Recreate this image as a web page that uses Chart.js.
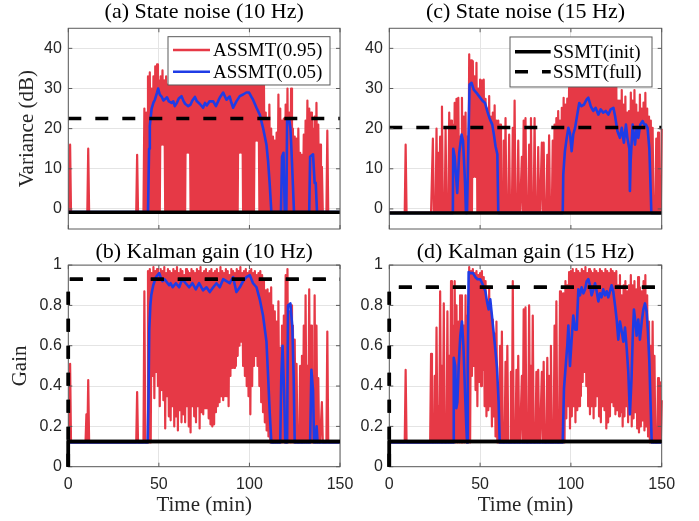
<!DOCTYPE html>
<html>
<head>
<meta charset="utf-8">
<script src="https://cdn.jsdelivr.net/npm/chart.js@4.4.1/dist/chart.umd.min.js"></script>
<style>
html,body{margin:0;padding:0;background:#fff;width:699px;height:521px;overflow:hidden;position:relative}
canvas{position:absolute}
</style>
</head>
<body>
<canvas id="pa" width="365" height="250" style="left:0;top:0"></canvas>
<canvas id="pc" width="349" height="250" style="left:350px;top:0"></canvas>
<canvas id="pb" width="365" height="281" style="left:0;top:240px"></canvas>
<canvas id="pd" width="349" height="281" style="left:350px;top:240px"></canvas>
<script>
// ---------- axis ticks ----------
const xTicks = [0, 50, 100, 150];
const yTicksNoise = [0, 10, 20, 30, 40];
const yTicksGain = [0, 0.2, 0.4, 0.6, 0.8, 1];

// ---------- SSMT reference levels (panels a, b, c, d) ----------
const ssmtInitLevel = [-0.8, 0.125, -1.0, 0.125];
const ssmtFullLevel = [22.5, 0.93, 20.3, 0.89];

// ---------- ASSMT(0.95): per-minute upper / lower values (t = 0..150) ----------
const redHiA = [
-0.8,16,-0.8,-0.8,-0.8,-0.8,-0.8,-0.8,-0.8,-0.8,
-0.8,15,-0.8,-0.8,-0.8,-0.8,-0.8,-0.8,-0.8,-0.8,
-0.8,-0.8,-0.8,-0.8,-0.8,-0.8,-0.8,-0.8,-0.8,-0.8,
-0.8,-0.8,-0.8,-0.8,-0.8,-0.8,-0.8,-0.8,13.5,-0.8,
-0.8,-0.8,25,24,33,34,30,33,35.5,36,
32,33,34.5,32,33,31,33,32,34,33,
32,34,33,32,33,34,32,33,34,33,
32,33,34,33,32,33,34,32,33,34,
33,32,34,33,32,33,34,33,32,33,
34,33,32,33,34,32,33,34,33,32,
33,34,32,33,31,33,32,31,32,24,
22,26,20,18,17,19,28.5,25,22,22.5,
26,30,24,30,20,18,17.5,20,14,13.5,
18.5,22,27,25,24,20,23,26.4,21,16,
10.5,-0.8,-0.8,19.5,-0.8,-0.8,-0.8,-0.8,-0.8,-0.8,-0.8];
const redLoA = [
-0.8,-0.8,-0.8,-0.8,-0.8,-0.8,-0.8,-0.8,-0.8,-0.8,
-0.8,-0.8,-0.8,-0.8,-0.8,-0.8,-0.8,-0.8,-0.8,-0.8,
-0.8,-0.8,-0.8,-0.8,-0.8,-0.8,-0.8,-0.8,-0.8,-0.8,
-0.8,-0.8,-0.8,-0.8,-0.8,-0.8,-0.8,-0.8,-0.8,-0.8,
-0.8,-0.8,-0.8,-0.8,-0.8,-0.8,-0.8,-0.8,-0.8,-0.8,
-0.8,16,16,-0.8,-0.8,-0.8,-0.8,-0.8,-0.8,-0.8,
-0.8,-0.8,-0.8,-0.8,-0.8,14,14,-0.8,-0.8,-0.8,
-0.8,-0.8,-0.8,-0.8,-0.8,-0.8,-0.8,-0.8,-0.8,-0.8,
-0.8,-0.8,-0.8,-0.8,-0.8,-0.8,-0.8,-0.8,-0.8,-0.8,
-0.8,-0.8,-0.8,-0.8,14,14,-0.8,-0.8,-0.8,-0.8,
-0.8,-0.8,-0.8,17,17,-0.8,-0.8,-0.8,-0.8,-0.8,
-0.8,-0.8,-0.8,-0.8,-0.8,-0.8,-0.8,-0.8,-0.8,-0.8,
-0.8,-0.8,-0.8,-0.8,-0.8,-0.8,-0.8,-0.8,-0.8,-0.8,
-0.8,-0.8,-0.8,-0.8,-0.8,-0.8,-0.8,-0.8,-0.8,-0.8,
-0.8,-0.8,-0.8,-0.8,-0.8,-0.8,-0.8,-0.8,-0.8,-0.8,-0.8];

const redHiC = [
-1,-1,-1,-1,-1,-1,-1,-1,-1,16,
-1,-1,-1,-1,-1,-1,-1,-1,-1,-1,
-1,-1,-1,-1,17.5,-1,20,14,18,25.5,
-1,20,-1,24,22,21,26.4,27.4,27.7,18,
27.7,23,24,18,38.5,37,36.8,33,36.4,30,
32.2,32,32.2,27.4,25,28.1,23,24,25.8,22,
22,21,-1,17,22.6,-1,18.5,-1,20.2,27,
-1,17,-1,13,22,22.6,-1,16,22.6,-1,
22.6,-1,15.4,-1,16.5,16.5,-1,13.5,18.3,-1,
17,21,22.6,24.4,22,25.2,27.7,26,27.5,30.2,
33,34,32,35,33,34,32,33,35,34,
33,32,34,33,35,33,32,34,33,32,
34,33,32,33,34,31,27,27,29.6,26,
28,24,24.4,29,27,29.6,26,24,28.5,25,
26.5,28.9,25,23,22,20.2,-1,17.5,19,-1,20];
const redLoC = [
-1,-1,-1,-1,-1,-1,-1,-1,-1,-1,
-1,-1,-1,-1,-1,-1,-1,-1,-1,-1,
-1,-1,-1,-1,-1,-1,-1,-1,-1,-1,
-1,-1,-1,-1,-1,-1,-1,-1,-1,-1,
-1,-1,-1,-1,-1,-1,8,8,-1,-1,
-1,-1,-1,-1,-1,-1,-1,-1,-1,-1,
-1,-1,-1,-1,-1,-1,-1,-1,-1,-1,
-1,-1,-1,-1,-1,-1,-1,-1,-1,-1,
-1,-1,-1,-1,-1,-1,-1,-1,-1,-1,
-1,-1,-1,-1,-1,-1,-1,-1,-1,-1,
-1,-1,-1,-1,-1,-1,-1,-1,-1,-1,
-1,-1,-1,-1,-1,-1,-1,-1,-1,-1,
-1,-1,-1,-1,-1,-1,-1,-1,-1,-1,
-1,-1,-1,-1,-1,-1,-1,-1,-1,-1,
-1,-1,-1,-1,-1,-1,-1,-1,-1,-1,-1];

const redHiB = [
0.12,0.51,0.12,0.12,0.12,0.12,0.12,0.12,0.12,0.12,
0.26,0.43,0.12,0.12,0.12,0.12,0.12,0.12,0.12,0.12,
0.12,0.12,0.12,0.12,0.12,0.12,0.12,0.12,0.12,0.12,
0.12,0.12,0.12,0.12,0.12,0.12,0.12,0.12,0.37,0.12,
0.12,0.12,0.87,0.12,0.97,0.98,0.96,0.99,0.97,0.98,
0.96,0.98,0.97,0.99,0.96,0.98,0.97,0.96,0.98,0.97,
0.99,0.96,0.98,0.97,0.95,0.98,0.97,0.96,0.98,0.97,
0.96,0.98,0.97,0.99,0.96,0.97,0.98,0.96,0.97,0.98,
0.96,0.97,0.98,0.96,0.99,0.97,0.96,0.98,0.97,0.95,
0.98,0.97,0.96,0.98,0.97,0.99,0.96,0.97,0.98,0.96,
0.97,0.98,0.96,0.97,0.95,0.96,0.97,0.95,0.93,0.875,
0.88,0.86,0.89,0.8,0.77,0.72,0.82,0.59,0.7,0.75,
0.95,0.98,0.77,0.8,0.7,0.63,0.51,0.12,0.5,0.55,
0.7,0.85,0.5,0.88,0.7,0.12,0.85,0.7,0.44,0.12,
0.32,0.12,0.12,0.67,0.12,0.12,0.12,0.12,0.12,0.12,0.12];
const redLoB = [
0.12,0.12,0.12,0.12,0.12,0.12,0.12,0.12,0.12,0.12,
0.12,0.12,0.12,0.12,0.12,0.12,0.12,0.12,0.12,0.12,
0.12,0.12,0.12,0.12,0.12,0.12,0.12,0.12,0.12,0.12,
0.12,0.12,0.12,0.12,0.12,0.12,0.12,0.12,0.12,0.12,
0.12,0.12,0.12,0.12,0.12,0.12,0.45,0.34,0.47,0.4,
0.3,0.38,0.33,0.19,0.35,0.25,0.23,0.3,0.2,0.25,
0.18,0.28,0.22,0.26,0.22,0.3,0.2,0.17,0.3,0.25,
0.22,0.3,0.19,0.27,0.26,0.29,0.29,0.24,0.21,0.2,
0.21,0.27,0.3,0.32,0.35,0.33,0.35,0.35,0.3,0.45,
0.49,0.49,0.5,0.55,0.6,0.62,0.5,0.45,0.4,0.35,
0.26,0.4,0.5,0.55,0.5,0.4,0.32,0.27,0.22,0.18,
0.15,0.12,0.12,0.12,0.12,0.12,0.12,0.12,0.12,0.12,
0.12,0.12,0.12,0.12,0.12,0.12,0.12,0.12,0.12,0.12,
0.12,0.12,0.12,0.12,0.12,0.12,0.12,0.12,0.12,0.12,
0.12,0.12,0.12,0.12,0.12,0.12,0.12,0.12,0.12,0.12,0.12];

const redHiD = [
0.12,0.12,0.12,0.12,0.12,0.12,0.12,0.12,0.12,0.48,
0.12,0.12,0.12,0.12,0.12,0.12,0.12,0.12,0.12,0.12,
0.12,0.12,0.12,0.56,0.12,0.45,0.69,0.3,0.87,0.5,
0.81,0.12,0.77,0.55,0.92,0.7,0.92,0.8,0.72,0.85,
0.85,0.7,0.85,0.75,0.99,0.97,0.98,0.96,0.97,0.95,
0.96,0.97,0.94,0.92,0.81,0.88,0.77,0.73,0.66,0.72,
0.12,0.6,0.67,0.12,0.52,0.6,0.12,0.47,0.92,0.12,
0.48,0.55,0.12,0.45,0.78,0.79,0.12,0.8,0.5,0.75,
0.12,0.47,0.48,0.12,0.47,0.52,0.12,0.54,0.45,0.6,
0.12,0.7,0.82,0.12,0.87,0.86,0.86,0.92,0.9,0.965,
0.97,0.98,0.96,0.98,0.97,0.96,0.98,0.97,0.99,0.96,
0.98,0.97,0.96,0.98,0.97,0.96,0.98,0.97,0.96,0.98,
0.97,0.96,0.98,0.97,0.96,0.97,0.9,0.95,0.85,0.9,
0.92,0.87,0.9,0.95,0.9,0.92,0.88,0.94,0.89,0.87,
0.92,0.95,0.85,0.72,0.6,0.72,0.55,0.12,0.44,0.42,0.33];
const redLoD = [
0.12,0.12,0.12,0.12,0.12,0.12,0.12,0.12,0.12,0.12,
0.12,0.12,0.12,0.12,0.12,0.12,0.12,0.12,0.12,0.12,
0.12,0.12,0.12,0.12,0.12,0.12,0.12,0.12,0.12,0.12,
0.12,0.12,0.12,0.12,0.12,0.12,0.12,0.12,0.12,0.12,
0.12,0.12,0.12,0.12,0.12,0.45,0.5,0.38,0.3,0.42,
0.4,0.48,0.3,0.25,0.28,0.3,0.2,0.25,0.15,0.12,
0.12,0.12,0.12,0.12,0.12,0.12,0.12,0.12,0.12,0.12,
0.12,0.12,0.12,0.12,0.12,0.12,0.12,0.12,0.12,0.12,
0.12,0.12,0.12,0.12,0.12,0.12,0.12,0.12,0.12,0.12,
0.12,0.12,0.12,0.12,0.12,0.12,0.12,0.24,0.3,0.19,
0.25,0.3,0.22,0.28,0.3,0.35,0.42,0.47,0.4,0.3,
0.26,0.3,0.24,0.3,0.35,0.25,0.22,0.3,0.28,0.19,
0.22,0.25,0.32,0.3,0.26,0.28,0.25,0.27,0.2,0.25,
0.3,0.22,0.26,0.2,0.24,0.27,0.19,0.17,0.2,0.23,
0.18,0.2,0.15,0.12,0.12,0.12,0.12,0.12,0.12,0.12,0.12];

// ---------- ASSMT(0.05): [time (min), value] points ----------
const blueA = [[0,-0.8],[44,-0.8],[44.6,15],[45,20.7],[46,25],[47,26.5],[47.8,27.2],[49,29],[49.6,30],[50.5,28.5],
[51.5,28],[52.5,27],[53.3,27.3],[54.5,27.8],[55.5,26.8],[57,26.4],[58,26.8],[58.8,25.6],[60,26.5],[61,27.5],
[62.5,28.1],[63.5,27],[64.5,26.2],[66.2,25.6],[67.5,26],[68.5,27],[69.9,27.9],[71,26.8],[72.5,26.2],[74.4,25.2],
[75.5,26.4],[76.5,25.8],[78,26.8],[80,26.8],[81.5,25.6],[83.6,27.7],[85.5,29],[87.3,27.2],[89.1,28],[90,26.5],
[91,25.2],[92.8,26.8],[94.7,28.1],[96.5,28.5],[98.3,29],[99.8,29],[101,28],[102,27.2],[103.9,25.2],[105.7,23.5],
[107.5,20.2],[109.4,16],[110.3,11.9],[111.2,6.1],[112.1,-0.8],[117.4,-0.8],[118,13],[118.8,14],[119.5,-0.8],[120.4,-0.8],
[120.8,22.2],[121.9,22.6],[122.6,20.2],[123.1,15.7],[124,6],[124.6,-0.8],[133,-0.8],[133.5,13],[135.1,13.6],[136,6.5],
[136.6,6.5],[137.3,-0.8],[150,-0.8]];
const blueC = [[0,-1],[35,-1],[35.2,15],[36,13],[37.4,4],[38.5,14],[39.8,18.5],[40.6,17],[41.7,6.6],[42.2,-1],
[42.8,-1],[43.5,15],[44.2,31],[45.3,31.4],[46.5,29.7],[47.9,29],[49.4,28.1],[51.2,27],[52.7,26.4],[54,24.3],
[55.2,22.6],[56.7,21],[57.6,18.5],[58.5,15.6],[59.5,13.6],[60,-1],[95.5,-1],[95.8,8.6],[96.7,14.4],[97.7,17.7],
[98.6,20.2],[99.5,18.8],[100.4,14.4],[101.3,18.6],[102.3,20.2],[103.5,23.5],[104.6,26.4],[105.8,25.6],[107.2,26],[108.7,27.3],
[109.6,27.7],[110.9,25.6],[112.3,24.4],[113.6,25.2],[115.1,23.5],[116.4,24.8],[117.8,24],[119.2,24.4],[120.6,23.5],[121.9,24.8],
[123.4,25.2],[124.3,23.2],[125.6,19.4],[127,17.7],[128,20.2],[129.2,16.5],[130.3,21],[131.1,17.7],[132.2,15],[132.5,4.5],
[132.9,12],[134,21],[135.3,16],[136.2,20.2],[137.1,17.7],[138.2,21],[139.5,21.9],[140.4,21],[141.3,21],[142.2,20.2],
[143.2,15],[143.9,5],[144.3,-1],[150,-1]];
const blueB = [[0,0.12],[43.8,0.12],[44.3,0.35],[44.7,0.68],[45.3,0.8],[45.8,0.85],[46.9,0.9],[48.4,0.94],[50.2,0.96],[51,0.94],
[52,0.92],[53,0.93],[54,0.92],[55.7,0.9],[56.5,0.91],[57.6,0.89],[59.4,0.91],[61.2,0.89],[62,0.91],[63,0.93],
[64.8,0.91],[66.7,0.89],[68.5,0.91],[70.4,0.88],[72.2,0.91],[74.4,0.875],[76.3,0.89],[78.1,0.866],[80,0.89],[81.8,0.91],
[83.6,0.89],[85.5,0.93],[87.3,0.92],[89.1,0.91],[91,0.94],[92.8,0.866],[94.7,0.89],[96.5,0.92],[98.3,0.94],[100.2,0.95],
[102,0.91],[103.9,0.89],[105.7,0.83],[107.5,0.75],[109.4,0.62],[110.3,0.45],[111.2,0.27],[112.1,0.12],[117,0.12],[117.6,0.45],
[118.3,0.6],[119.2,0.35],[119.8,0.12],[120.8,0.12],[121.3,0.8],[122.6,0.81],[123.7,0.69],[124.4,0.45],[125,0.12],[133.5,0.12],
[134.2,0.48],[135.1,0.38],[135.7,0.12],[136.6,0.12],[137.1,0.2],[137.6,0.12],[150,0.12]];
const blueD = [[0,0.12],[35.2,0.12],[35.5,0.54],[36.3,0.5],[36.9,0.29],[37.5,0.32],[38.2,0.5],[39.1,0.65],[40,0.72],[40.8,0.6],
[41.9,0.32],[42.4,0.2],[42.8,0.12],[43.2,0.5],[43.7,0.965],[44.6,0.96],[46.1,0.96],[47.4,0.94],[48.6,0.93],[50.1,0.93],
[51.6,0.9],[52.9,0.87],[53.8,0.82],[54.7,0.78],[55.6,0.83],[56.5,0.75],[57.4,0.67],[58.4,0.58],[59.3,0.49],[60.2,0.32],
[60.8,0.12],[95.5,0.12],[96.2,0.39],[97.3,0.52],[98,0.6],[98.6,0.7],[99.5,0.5],[100.4,0.63],[101.3,0.75],[102.3,0.68],
[103.2,0.68],[104.1,0.88],[105,0.85],[105.9,0.89],[106.9,0.86],[107.8,0.88],[108.7,0.92],[109.6,0.93],[110.5,0.9],[111.4,0.85],
[112.4,0.88],[113.3,0.91],[114.2,0.87],[115.1,0.82],[116,0.86],[116.9,0.84],[117.8,0.88],[118.8,0.85],[119.7,0.87],[120.6,0.84],
[121.5,0.87],[122.4,0.9],[123.3,0.87],[124.3,0.8],[125.2,0.73],[126.1,0.63],[127,0.72],[128,0.67],[128.9,0.62],[129.8,0.69],
[130.7,0.59],[131.6,0.47],[132.5,0.26],[133.4,0.44],[134,0.63],[134.7,0.78],[135.5,0.72],[136.2,0.65],[137.1,0.73],[138,0.63],
[139,0.72],[139.9,0.78],[140.8,0.81],[141.7,0.77],[142.4,0.67],[143.2,0.52],[143.9,0.3],[144.5,0.12],[150,0.12]];

// ---------- styling ----------
const RED = '#e63946';
const BLUE = '#1f3ce6';
const GRID = '#e4e4e4';
const AXIS = '#5a5a5a';
const TXT = '#262626';
const SERIF = "'Liberation Serif','Times New Roman',serif";
const SANS = "'Liberation Sans',Arial,sans-serif";

function redPoints(hi, lo) {
  const pts = [];
  for (let i = 0; i < hi.length; i++) {
    pts.push({x: i, y: hi[i]});
    if (i < hi.length - 1) pts.push({x: i + 0.5, y: lo[i]});
  }
  return pts;
}
const toPts = arr => arr.map(p => ({x: p[0], y: p[1]}));
function levelLine(level, fromZero) {
  return fromZero ? [{x: 0, y: 0}, {x: 0, y: level}, {x: 150, y: level}]
                  : [{x: 0, y: level}, {x: 150, y: level}];
}

const framePlugin = {
  id: 'frame',
  afterDatasetsDraw(chart) {
    const {ctx, chartArea: a, scales: {x, y}} = chart;
    ctx.save();
    ctx.strokeStyle = AXIS; ctx.lineWidth = 1;
    ctx.beginPath();
    for (const v of xTicks) {
      const px = x.getPixelForValue(v);
      ctx.moveTo(px, a.bottom); ctx.lineTo(px, a.bottom - 4);
      ctx.moveTo(px, a.top); ctx.lineTo(px, a.top + 4);
    }
    for (const t of y.ticks) {
      const py = y.getPixelForValue(t.value);
      ctx.moveTo(a.left, py); ctx.lineTo(a.left + 4, py);
      ctx.moveTo(a.right, py); ctx.lineTo(a.right - 4, py);
    }
    ctx.stroke();
    ctx.strokeRect(a.left, a.top, a.right - a.left, a.bottom - a.top);
    ctx.restore();
  }
};

// redraw the reference lines on top of the frame so the vertical part at t = 0 stays bold
const levelOnTop = {
  id: 'levelOnTop',
  afterDatasetsDraw(chart) {
    const {ctx, scales: {x, y}} = chart;
    [0, 1].forEach(di => {
      const ds = chart.data.datasets[di];
      const pts = ds.data;
      if (pts.length < 3) return;
      ctx.save();
      ctx.strokeStyle = ds.borderColor; ctx.lineWidth = ds.borderWidth;
      ctx.setLineDash(ds.borderDash || []);
      ctx.beginPath();
      pts.forEach((p, k) => {
        const px = x.getPixelForValue(p.x), py = y.getPixelForValue(p.y);
        if (k === 0) ctx.moveTo(px, py); else ctx.lineTo(px, py);
      });
      ctx.stroke();
      ctx.restore();
    });
  }
};

function makeLegend(cfg) {
  return {
    id: 'innerLegend',
    afterDatasetsDraw(chart) {
      const {ctx, chartArea: a} = chart;
      const x0 = a.right - cfg.fromRight - cfg.w, y0 = a.top + cfg.fromTop;
      ctx.save();
      ctx.fillStyle = '#fff';
      ctx.fillRect(x0, y0, cfg.w, cfg.h);
      ctx.strokeStyle = AXIS; ctx.lineWidth = 1;
      ctx.strokeRect(x0, y0, cfg.w, cfg.h);
      cfg.items.forEach((di, k) => {
        const ds = chart.data.datasets[di];
        const yy = y0 + cfg.rows[k];
        ctx.beginPath();
        ctx.strokeStyle = ds.borderColor; ctx.lineWidth = Math.max(ds.borderWidth, 2.6);
        ctx.setLineDash(ds.borderDash || []);
        ctx.moveTo(x0 + cfg.lineX0, yy); ctx.lineTo(x0 + cfg.lineX1, yy);
        ctx.stroke();
        ctx.setLineDash([]);
        ctx.fillStyle = '#000';
        ctx.font = '19px ' + SERIF;
        ctx.textAlign = 'left'; ctx.textBaseline = 'middle';
        ctx.fillText(ds.label, x0 + cfg.textX, yy + 1);
      });
      ctx.restore();
    }
  };
}

function panel(id, p) {
  const base = {pointRadius: 0, fill: false, tension: 0, borderJoinStyle: 'round', spanGaps: true, clip: 6};
  const datasets = [
    Object.assign({label: 'SSMT(init)', data: levelLine(p.init, p.gain), borderColor: '#000', borderWidth: 3.5}, base),
    Object.assign({label: 'SSMT(full)', data: levelLine(p.full, p.gain), borderColor: '#000', borderWidth: 3.5, borderDash: [13, 14]}, base),
    Object.assign({label: 'ASSMT(0.05)', data: toPts(p.blue), borderColor: BLUE, borderWidth: 2.6}, base),
    Object.assign({label: 'ASSMT(0.95)', data: redPoints(p.hi, p.lo), borderColor: RED, borderWidth: 2.2}, base)
  ];
  const yTicks = p.gain ? yTicksGain : yTicksNoise;
  return new Chart(document.getElementById(id), {
    type: 'line',
    data: {datasets},
    options: {
      responsive: false, animation: false, events: [],
      layout: {padding: p.pad},
      plugins: {
        legend: {display: false}, tooltip: {enabled: false},
        title: {display: true, text: p.title, fullSize: false, color: '#000',
                font: {family: SERIF, size: 22, weight: 'normal', lineHeight: 1.14},
                padding: {top: 0, bottom: p.titlePad}}
      },
      scales: {
        x: {type: 'linear', min: 0, max: 150,
            afterBuildTicks: s => { s.ticks = xTicks.map(v => ({value: v})); },
            ticks: {display: p.gain, color: TXT, font: {family: SANS, size: 16}, padding: 8, maxRotation: 0},
            grid: {color: GRID, drawTicks: false}, border: {display: false},
            title: {display: p.gain, text: 'Time (min)', color: TXT,
                    font: {family: SERIF, size: 21, lineHeight: 1.2}, padding: {top: 0, bottom: 3.4}},
            afterFit: s => { s.height = p.xH; }},
        y: {type: 'linear', min: p.gain ? 0 : -5, max: p.gain ? 1 : 45,
            afterBuildTicks: s => { s.ticks = yTicks.map(v => ({value: v})); },
            ticks: {color: TXT, font: {family: SANS, size: 16}, padding: 6.5, callback: v => String(v)},
            grid: {color: GRID, drawTicks: false}, border: {display: false},
            title: {display: !!p.yTitle, text: p.yTitle || '', color: TXT,
                    font: {family: SERIF, size: 21, lineHeight: 1.2}, padding: {top: p.yTitlePad || 0, bottom: 0}},
            afterFit: s => { s.width = p.yW; }}
      }
    },
    plugins: [framePlugin, levelOnTop].concat(p.legend ? [makeLegend(p.legend)] : [])
  });
}

panel('pa', {title: '(a) State noise (10 Hz)', gain: false, init: ssmtInitLevel[0], full: ssmtFullLevel[0],
  hi: redHiA, lo: redLoA, blue: blueA, pad: {left: 0, right: 25, top: 0, bottom: 10}, titlePad: 3.2,
  xH: 11, yW: 68.3, yTitle: 'Variance (dB)', yTitlePad: 15,
  legend: {fromRight: 10, w: 162, fromTop: 8.4, h: 48.3, items: [3, 2], rows: [13.3, 35], lineX0: 5, lineX1: 42, textX: 45}});
panel('pc', {title: '(c) State noise (15 Hz)', gain: false, init: ssmtInitLevel[2], full: ssmtFullLevel[2],
  hi: redHiC, lo: redLoC, blue: blueC, pad: {left: 0, right: 37.3, top: 0, bottom: 10}, titlePad: 3.2,
  xH: 11, yW: 39.3,
  legend: {fromRight: 9.7, w: 142, fromTop: 8.7, h: 50, items: [0, 1], rows: [14.7, 34.7], lineX0: 5, lineX1: 40.7, textX: 43}});
panel('pb', {title: '(b) Kalman gain (10 Hz)', gain: true, init: ssmtInitLevel[1], full: ssmtFullLevel[1],
  hi: redHiB, lo: redLoB, blue: blueB, pad: {left: 0, right: 25, top: 0, bottom: 0}, titlePad: 0,
  xH: 54.3, yW: 68.3, yTitle: 'Gain', yTitlePad: 8});
panel('pd', {title: '(d) Kalman gain (15 Hz)', gain: true, init: ssmtInitLevel[3], full: ssmtFullLevel[3],
  hi: redHiD, lo: redLoD, blue: blueD, pad: {left: 0, right: 37.3, top: 0, bottom: 0}, titlePad: 0,
  xH: 54.3, yW: 39.3});
</script>
</body>
</html>
